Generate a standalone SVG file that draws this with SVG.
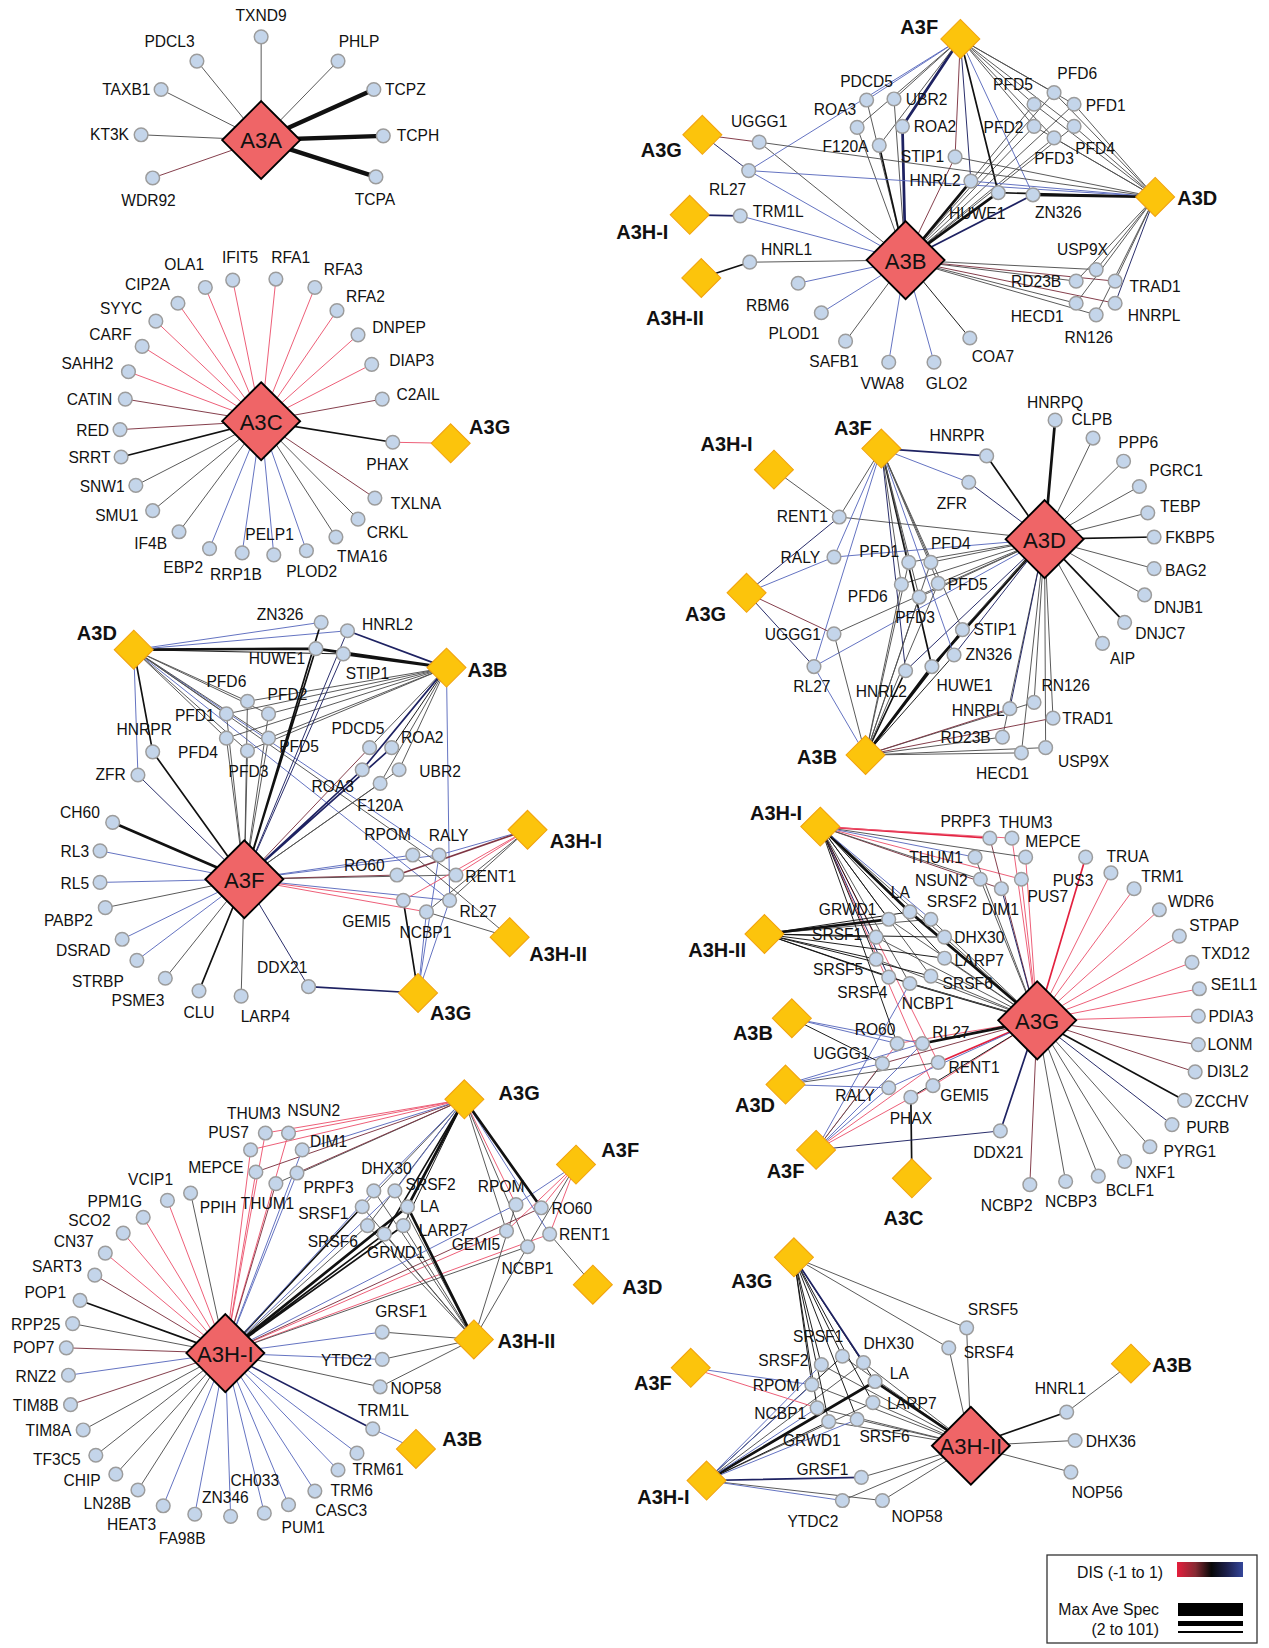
<svg xmlns="http://www.w3.org/2000/svg" width="1269" height="1648" viewBox="0 0 1269 1648">
<defs>
<style>
text{font-family:"Liberation Sans",Arial,sans-serif;fill:#111}
#connectors path{fill:none;stroke-linecap:round}
.r{stroke:#ec5670}.R{stroke:#e3213f}.d{stroke:#7e3442}.k{stroke:#111}.g{stroke:#505050}.n{stroke:#1e2262}.b{stroke:#5b6bbd}
.t1{stroke-width:.9}.t2{stroke-width:1.6}.t3{stroke-width:2.6}.t4{stroke-width:4.2}
.nd circle{fill:#c4d5ea;stroke:#9c9c9c;stroke-width:1.4}
.nd text{font-size:14.8px;text-anchor:middle}
.hub use{fill:#ef6567;stroke:#000;stroke-width:1.8}
.hub text{font-size:21px;text-anchor:middle}
.sat use{fill:#fcc40c;stroke:#f2a30f;stroke-width:1}
.sat text{font-size:19px;font-weight:bold;text-anchor:middle}
.lg{font-size:15.8px;text-anchor:end}
</style>
<polygon id="hd" points="0,-37 37,0 0,37 -37,0"/>
<polygon id="sd" points="0,-18.5 18.5,0 0,18.5 -18.5,0"/>
<linearGradient id="dis" x1="0" x2="1" y1="0" y2="0">
<stop offset="0" stop-color="#e51e3c"/><stop offset=".28" stop-color="#862a33"/><stop offset=".52" stop-color="#080808"/><stop offset=".75" stop-color="#1c1f4a"/><stop offset="1" stop-color="#34469a"/>
</linearGradient>
</defs>
<rect width="1269" height="1648" fill="#fff"/>
<g transform="scale(1.053)">
<g id="connectors">
<path class="g t1" d="M248 133L248 35M248 133L187 58M248 133L153 85M248 133L321 58M248 133L134 128"/>
<path class="d t1" d="M248 133L145 169"/>
<path class="k t4" d="M248 133L355 85M248 133L364 129M248 133L357 168"/>
<path class="r t1" d="M248 400L195 273M248 400L221 266M248 400L262 265M248 400L299 273M248 400L169 288M248 400L320 295M248 400L148 305M248 400L340 318M248 400L135 329M248 400L353 346M248 400L122 353M373 420L428 421"/>
<path class="d t1" d="M248 400L363 379M248 400L119 379M248 400L114 408M248 400L356 473"/>
<path class="k t2" d="M248 400L115 434M248 400L373 420"/>
<path class="g t1" d="M248 400L129 461M248 400L145 485M248 400L170 505M248 400L319 510M248 400L340 493"/>
<path class="b t1" d="M248 400L199 521M248 400L230 525M248 400L260 527M248 400L291 523"/>
<path class="g t1" d="M860 247L712 249M860 247L803 324M860 247L721 135M860 247L823 95M860 247L814 121M860 247L849 94M860 247L982 99M860 247L1001 88M860 247L1020 99M860 247L982 120M860 247L1020 120M860 247L1001 131M860 247L1041 256M860 247L1022 267M860 247L1022 288M860 247L1041 299"/>
<path class="b t1" d="M860 247L758 269M860 247L780 297M860 247L844 344M860 247L887 344M860 247L703 205M860 247L711 162"/>
<path class="k t1" d="M860 247L921 321"/>
<path class="k t2" d="M860 247L835 138"/>
<path class="n t3" d="M860 247L857 120M912 37L857 120"/>
<path class="d t1" d="M860 247L907 149M860 247L1059 267M860 247L1059 288M912 37L907 149M667 128L721 135"/>
<path class="k t3" d="M860 247L922 172M860 247L948 183M1097 187L981 185"/>
<path class="n t2" d="M860 247L981 185M655 204L703 205"/>
<path class="b t1" d="M912 37L823 95M912 37L711 162M912 37L981 185M1097 187L711 162M1097 187L922 172"/>
<path class="g t1" d="M912 37L814 121M912 37L849 94M912 37L835 138M912 37L982 99M912 37L1001 88M912 37L1020 99M912 37L982 120M912 37L1020 120M912 37L1001 131"/>
<path class="n t1" d="M912 37L922 172M1097 187L1059 288M667 128L711 162"/>
<path class="k t2" d="M912 37L948 183M1097 187L948 183M666 264L712 249"/>
<path class="g t1" d="M1097 187L721 135M1097 187L907 149M1097 187L982 99M1097 187L1001 88M1097 187L1020 99M1097 187L982 120M1097 187L1020 120M1097 187L1001 131M1097 187L1041 256M1097 187L1022 267M1097 187L1059 267M1097 187L1022 288M1097 187L1041 299"/>
<path class="k t3" d="M992 512L1002 399M992 512L885 633M822 717L885 633"/>
<path class="g t1" d="M992 512L1038 416M992 512L1067 438M992 512L1082 462M992 512L1090 487M992 512L1096 540M992 512L1087 565M992 512L1047 611M992 512L797 491M992 512L863 534M992 512L884 534M992 512L856 555M992 512L891 554M992 512L873 567M992 512L792 602M992 512L914 598M992 512L982 667M992 512L1000 682M992 512L952 700M992 512L993 710M992 512L970 715"/>
<path class="k t2" d="M992 512L1096 510M992 512L1068 591M992 512L937 433M837 426L885 633M822 717L914 598M822 717L860 637"/>
<path class="n t1" d="M992 512L920 458M992 512L906 622M992 512L860 637M992 512L959 673M837 426L860 637M709 563L797 491M709 563L773 633"/>
<path class="b t1" d="M992 512L792 529M992 512L773 633M837 426L920 458M837 426L792 529M837 426L773 633M837 426L906 622M709 563L792 529M822 717L773 633"/>
<path class="n t2" d="M837 426L937 433"/>
<path class="g t1" d="M837 426L797 491M837 426L863 534M837 426L884 534M837 426L856 555M837 426L891 554M837 426L873 567M837 426L914 598M735 446L797 491M822 717L792 602M822 717L863 534M822 717L884 534M822 717L856 555M822 717L891 554M822 717L873 567M822 717L982 667M822 717L952 700M822 717L993 710M822 717L970 715"/>
<path class="d t1" d="M709 563L792 602M822 717L959 673M822 717L1000 682"/>
<path class="k t1" d="M822 717L906 622"/>
<path class="k t3" d="M232 835L107 781M127 617L300 616M424 634L300 616M424 634L326 621"/>
<path class="b t1" d="M232 835L95 808M232 835L95 838M232 835L116 892M232 835L130 912M232 835L392 812M232 835L417 812M232 835L427 855M127 617L305 591M127 617L330 599M127 617L131 736M127 617L417 812M127 617L427 855M424 634L427 855M501 788L417 812M397 943L405 866M397 943L427 855M397 943L417 812"/>
<path class="g t1" d="M232 835L100 862M232 835L157 929M232 835L229 946M232 835L235 666M232 835L255 678M232 835L215 678M232 835L215 701M232 835L255 701M232 835L235 713M232 835L379 731M232 835L361 744M232 835L433 831M127 617L235 666M127 617L255 678M127 617L215 678M127 617L215 701M127 617L255 701M127 617L235 713M127 617L433 831M424 634L235 666M424 634L255 678M424 634L215 678M424 634L215 701M424 634L255 701M424 634L235 713M424 634L351 710M424 634L379 731M424 634L361 744M501 788L427 855M501 788L405 866M484 890L392 812M484 890L405 866"/>
<path class="k t2" d="M232 835L189 941M232 835L145 714M232 835L300 616M232 835L305 591M127 617L145 714M397 943L383 855"/>
<path class="n t1" d="M232 835L293 937M232 835L131 736M232 835L330 599M232 835L326 621"/>
<path class="d t1" d="M232 835L351 710M232 835L377 831"/>
<path class="n t2" d="M232 835L344 731M232 835L372 710M424 634L330 599M424 634L344 731M397 943L293 937"/>
<path class="r t1" d="M232 835L383 855M232 835L405 866M501 788L433 831M501 788L383 855"/>
<path class="k t1" d="M127 617L326 621M424 634L372 710"/>
<path class="d t2" d="M501 788L377 831"/>
<path class="R t2" d="M985 969L1031 814M985 969L891 1009M779 785L940 796"/>
<path class="r t1" d="M985 969L1055 829M985 969L1077 844M985 969L1101 864M985 969L1120 889M985 969L1132 914M985 969L1139 939M985 969L1138 965M985 969L961 796M985 969L974 814M985 969L970 835M985 969L852 991M985 969L886 1031M779 785L961 796M779 785L970 835M779 785L891 1009M779 785L886 1031M775 1092L852 991M775 1092L891 1009M775 1092L886 1031"/>
<path class="d t1" d="M985 969L1138 992M985 969L1135 1018M985 969L940 796M985 969L838 1010M985 969L978 1125M779 785L951 844"/>
<path class="k t2" d="M985 969L1125 1045M985 969L864 934M866 1119L865 1042"/>
<path class="n t1" d="M985 969L1113 1068M985 969L951 844M779 785L844 928M775 1092L950 1074"/>
<path class="g t1" d="M985 969L1092 1089M985 969L1068 1103M985 969L1043 1117M985 969L1012 1122M985 969L926 814M985 969L931 835M985 969L844 873M985 969L884 873M985 969L832 890M985 969L897 890M985 969L832 911M985 969L897 910M985 969L884 927M985 969L844 928M779 785L974 814M779 785L931 835M779 785L897 890M779 785L884 927M779 785L864 934M726 887L884 873M746 1030L891 1009M775 1092L838 1010"/>
<path class="n t2" d="M985 969L950 1074"/>
<path class="k t3" d="M985 969L864 866M985 969L876 991M779 785L864 866M726 887L844 873"/>
<path class="b t1" d="M985 969L844 1033M779 785L926 814M779 785L884 873M752 967L852 991M752 967L876 991M746 1030L838 1010M746 1030L844 1033M746 1030L876 991M775 1092L844 1033M775 1092L864 934M775 1092L876 991"/>
<path class="k t1" d="M985 969L865 1042M779 785L844 873M779 785L832 890M779 785L832 911M779 785L897 910M779 785L852 991M726 887L864 866M726 887L832 890M726 887L897 890M726 887L897 910M726 887L832 911M726 887L884 927M726 887L844 928M726 887L864 934M752 967L838 1010"/>
<path class="r t1" d="M214 1285L159 1140M214 1285L136 1156M214 1285L117 1171M214 1285L100 1190M214 1285L252 1076M214 1285L274 1076M214 1285L238 1092M214 1285L243 1113M214 1285L481 1169M214 1285L522 1172M441 1044L252 1076M441 1044L274 1076M441 1044L238 1092M441 1044L490 1144M547 1106L481 1169M547 1106L522 1172M547 1106L514 1147"/>
<path class="g t1" d="M214 1285L181 1133M214 1285L69 1257M214 1285L79 1358M214 1285L91 1382M214 1285L131 1415M214 1285L361 1317M214 1285L349 1164M214 1285L501 1184M214 1285L110 1400M441 1044L262 1124M441 1044L344 1146M441 1044L349 1164M441 1044L481 1169M441 1044L501 1184M547 1106L501 1184M563 1220L522 1172M450 1272L383 1164M450 1272L365 1172M450 1272L344 1146M450 1272L375 1131M450 1272L355 1131M450 1272L349 1164M450 1272L490 1144M450 1272L501 1184M450 1272L363 1265M450 1272L363 1291M450 1272L361 1317"/>
<path class="d t1" d="M214 1285L90 1211M214 1285L63 1280M214 1285L67 1334M214 1285L262 1124M214 1285L514 1147M441 1044L243 1113M441 1044L282 1114"/>
<path class="k t2" d="M214 1285L76 1235M214 1285L344 1146M214 1285L383 1164M214 1285L365 1172M441 1044L365 1172"/>
<path class="b t1" d="M214 1285L65 1306M214 1285L155 1430M214 1285L185 1438M214 1285L219 1440M214 1285L251 1437M214 1285L274 1429M214 1285L299 1416M214 1285L321 1396M214 1285L339 1380M214 1285L363 1291M214 1285L363 1265M214 1285L287 1092M214 1285L282 1114M214 1285L355 1131M214 1285L375 1131M214 1285L490 1144M441 1044L287 1092M441 1044L355 1131M441 1044L375 1131M441 1044L522 1172M547 1106L490 1144M395 1376L354 1357"/>
<path class="n t2" d="M214 1285L354 1357"/>
<path class="k t3" d="M214 1285L387 1146M441 1044L387 1146M441 1044L514 1147M450 1272L387 1146"/>
<path class="k t1" d="M441 1044L383 1164"/>
<path class="g t1" d="M922 1373L918 1261M922 1373L901 1280M922 1373L800 1288M922 1373L820 1294M922 1373L780 1296M922 1373L771 1315M922 1373L829 1332M922 1373L776 1337M922 1373L787 1350M922 1373L814 1348M922 1373L1021 1368M922 1373L1017 1398M922 1373L818 1403M922 1373L800 1425M922 1373L838 1425M754 1194L918 1261M754 1194L901 1280M671 1406L820 1294M671 1406L829 1332M671 1406L838 1425M1074 1295L1013 1341"/>
<path class="k t3" d="M922 1373L831 1312M671 1406L831 1312"/>
<path class="k t2" d="M922 1373L1013 1341"/>
<path class="k t1" d="M754 1194L800 1288M754 1194L780 1296M754 1194L831 1312M754 1194L771 1315M754 1194L829 1332M754 1194L776 1337M754 1194L787 1350M754 1194L814 1348M671 1406L787 1350M671 1406L800 1288"/>
<path class="n t2" d="M754 1194L820 1294M671 1406L818 1403"/>
<path class="b t1" d="M656 1299L771 1315M671 1406L771 1315M671 1406L776 1337M671 1406L780 1296M671 1406L814 1348M671 1406L800 1425"/>
<path class="r t1" d="M656 1299L776 1337"/>
</g>

<g id="nodes">
<g id="a-TXND9" class="nd"><circle cx="248" cy="35" r="6.5"/><text x="248" y="20">TXND9</text></g>
<g id="a-PDCL3" class="nd"><circle cx="187" cy="58" r="6.5"/><text x="161" y="45">PDCL3</text></g>
<g id="a-PHLP" class="nd"><circle cx="321" cy="58" r="6.5"/><text x="341" y="45">PHLP</text></g>
<g id="a-TAXB1" class="nd"><circle cx="153" cy="85" r="6.5"/><text x="120" y="90">TAXB1</text></g>
<g id="a-TCPZ" class="nd"><circle cx="355" cy="85" r="6.5"/><text x="385" y="90">TCPZ</text></g>
<g id="a-KT3K" class="nd"><circle cx="134" cy="128" r="6.5"/><text x="104" y="133">KT3K</text></g>
<g id="a-TCPH" class="nd"><circle cx="364" cy="129" r="6.5"/><text x="397" y="134">TCPH</text></g>
<g id="a-WDR92" class="nd"><circle cx="145" cy="169" r="6.5"/><text x="141" y="196">WDR92</text></g>
<g id="a-TCPA" class="nd"><circle cx="357" cy="168" r="6.5"/><text x="356" y="195">TCPA</text></g>
<g id="a-A3A" class="hub"><use href="#hd" x="248" y="133"/><text x="248" y="141">A3A</text></g>

<g id="c-OLA1" class="nd"><circle cx="195" cy="273" r="6.5"/><text x="175" y="256">OLA1</text></g>
<g id="c-IFIT5" class="nd"><circle cx="221" cy="266" r="6.5"/><text x="228" y="250">IFIT5</text></g>
<g id="c-RFA1" class="nd"><circle cx="262" cy="265" r="6.5"/><text x="276" y="250">RFA1</text></g>
<g id="c-RFA3" class="nd"><circle cx="299" cy="273" r="6.5"/><text x="326" y="261">RFA3</text></g>
<g id="c-CIP2A" class="nd"><circle cx="169" cy="288" r="6.5"/><text x="140" y="275">CIP2A</text></g>
<g id="c-RFA2" class="nd"><circle cx="320" cy="295" r="6.5"/><text x="347" y="287">RFA2</text></g>
<g id="c-SYYC" class="nd"><circle cx="148" cy="305" r="6.5"/><text x="115" y="298">SYYC</text></g>
<g id="c-DNPEP" class="nd"><circle cx="340" cy="318" r="6.5"/><text x="379" y="316">DNPEP</text></g>
<g id="c-CARF" class="nd"><circle cx="135" cy="329" r="6.5"/><text x="105" y="323">CARF</text></g>
<g id="c-DIAP3" class="nd"><circle cx="353" cy="346" r="6.5"/><text x="391" y="348">DIAP3</text></g>
<g id="c-SAHH2" class="nd"><circle cx="122" cy="353" r="6.5"/><text x="83" y="350">SAHH2</text></g>
<g id="c-C2AIL" class="nd"><circle cx="363" cy="379" r="6.5"/><text x="397" y="380">C2AIL</text></g>
<g id="c-CATIN" class="nd"><circle cx="119" cy="379" r="6.5"/><text x="85" y="385">CATIN</text></g>
<g id="c-RED" class="nd"><circle cx="114" cy="408" r="6.5"/><text x="88" y="414">RED</text></g>
<g id="c-SRRT" class="nd"><circle cx="115" cy="434" r="6.5"/><text x="85" y="440">SRRT</text></g>
<g id="c-PHAX" class="nd"><circle cx="373" cy="420" r="6.5"/><text x="368" y="446">PHAX</text></g>
<g id="c-SNW1" class="nd"><circle cx="129" cy="461" r="6.5"/><text x="97" y="467">SNW1</text></g>
<g id="c-TXLNA" class="nd"><circle cx="356" cy="473" r="6.5"/><text x="395" y="483">TXLNA</text></g>
<g id="c-SMU1" class="nd"><circle cx="145" cy="485" r="6.5"/><text x="111" y="495">SMU1</text></g>
<g id="c-CRKL" class="nd"><circle cx="340" cy="493" r="6.5"/><text x="368" y="511">CRKL</text></g>
<g id="c-IF4B" class="nd"><circle cx="170" cy="505" r="6.5"/><text x="143" y="521">IF4B</text></g>
<g id="c-EBP2" class="nd"><circle cx="199" cy="521" r="6.5"/><text x="174" y="544">EBP2</text></g>
<g id="c-RRP1B" class="nd"><circle cx="230" cy="525" r="6.5"/><text x="224" y="551">RRP1B</text></g>
<g id="c-PELP1" class="nd"><circle cx="260" cy="527" r="6.5"/><text x="256" y="513">PELP1</text></g>
<g id="c-PLOD2" class="nd"><circle cx="291" cy="523" r="6.5"/><text x="296" y="548">PLOD2</text></g>
<g id="c-TMA16" class="nd"><circle cx="319" cy="510" r="6.5"/><text x="344" y="534">TMA16</text></g>
<g id="c-A3C" class="hub"><use href="#hd" x="248" y="400"/><text x="248" y="408">A3C</text></g>
<g id="c-A3G" class="sat"><use href="#sd" x="428" y="421"/><text x="465" y="412">A3G</text></g>

<g id="b-PDCD5" class="nd"><circle cx="823" cy="95" r="6.5"/><text x="823" y="83">PDCD5</text></g>
<g id="b-UBR2" class="nd"><circle cx="849" cy="94" r="6.5"/><text x="880" y="100">UBR2</text></g>
<g id="b-ROA3" class="nd"><circle cx="814" cy="121" r="6.5"/><text x="793" y="109">ROA3</text></g>
<g id="b-ROA2" class="nd"><circle cx="857" cy="120" r="6.5"/><text x="888" y="125">ROA2</text></g>
<g id="b-F120A" class="nd"><circle cx="835" cy="138" r="6.5"/><text x="803" y="144">F120A</text></g>
<g id="b-UGGG1" class="nd"><circle cx="721" cy="135" r="6.5"/><text x="721" y="121">UGGG1</text></g>
<g id="b-RL27" class="nd"><circle cx="711" cy="162" r="6.5"/><text x="691" y="185">RL27</text></g>
<g id="b-STIP1" class="nd"><circle cx="907" cy="149" r="6.5"/><text x="876" y="154">STIP1</text></g>
<g id="b-HNRL2" class="nd"><circle cx="922" cy="172" r="6.5"/><text x="888" y="177">HNRL2</text></g>
<g id="b-HUWE1" class="nd"><circle cx="948" cy="183" r="6.5"/><text x="928" y="208">HUWE1</text></g>
<g id="b-ZN326" class="nd"><circle cx="981" cy="185" r="6.5"/><text x="1005" y="207">ZN326</text></g>
<g id="b-TRM1L" class="nd"><circle cx="703" cy="205" r="6.5"/><text x="739" y="206">TRM1L</text></g>
<g id="b-HNRL1" class="nd"><circle cx="712" cy="249" r="6.5"/><text x="747" y="242">HNRL1</text></g>
<g id="b-RBM6" class="nd"><circle cx="758" cy="269" r="6.5"/><text x="729" y="295">RBM6</text></g>
<g id="b-PLOD1" class="nd"><circle cx="780" cy="297" r="6.5"/><text x="754" y="322">PLOD1</text></g>
<g id="b-SAFB1" class="nd"><circle cx="803" cy="324" r="6.5"/><text x="792" y="349">SAFB1</text></g>
<g id="b-VWA8" class="nd"><circle cx="844" cy="344" r="6.5"/><text x="838" y="369">VWA8</text></g>
<g id="b-GLO2" class="nd"><circle cx="887" cy="344" r="6.5"/><text x="899" y="369">GLO2</text></g>
<g id="b-COA7" class="nd"><circle cx="921" cy="321" r="6.5"/><text x="943" y="344">COA7</text></g>
<g id="b-PFD5" class="nd"><circle cx="982" cy="99" r="6.5"/><text x="962" y="85">PFD5</text></g>
<g id="b-PFD6" class="nd"><circle cx="1001" cy="88" r="6.5"/><text x="1023" y="75">PFD6</text></g>
<g id="b-PFD1" class="nd"><circle cx="1020" cy="99" r="6.5"/><text x="1050" y="105">PFD1</text></g>
<g id="b-PFD2" class="nd"><circle cx="982" cy="120" r="6.5"/><text x="953" y="126">PFD2</text></g>
<g id="b-PFD4" class="nd"><circle cx="1020" cy="120" r="6.5"/><text x="1040" y="146">PFD4</text></g>
<g id="b-PFD3" class="nd"><circle cx="1001" cy="131" r="6.5"/><text x="1001" y="156">PFD3</text></g>
<g id="b-USP9X" class="nd"><circle cx="1041" cy="256" r="6.5"/><text x="1028" y="242">USP9X</text></g>
<g id="b-RD23B" class="nd"><circle cx="1022" cy="267" r="6.5"/><text x="984" y="273">RD23B</text></g>
<g id="b-TRAD1" class="nd"><circle cx="1059" cy="267" r="6.5"/><text x="1097" y="277">TRAD1</text></g>
<g id="b-HECD1" class="nd"><circle cx="1022" cy="288" r="6.5"/><text x="985" y="306">HECD1</text></g>
<g id="b-HNRPL" class="nd"><circle cx="1059" cy="288" r="6.5"/><text x="1096" y="305">HNRPL</text></g>
<g id="b-RN126" class="nd"><circle cx="1041" cy="299" r="6.5"/><text x="1034" y="326">RN126</text></g>
<g id="b-A3B" class="hub"><use href="#hd" x="860" y="247"/><text x="860" y="255">A3B</text></g>
<g id="b-A3F" class="sat"><use href="#sd" x="912" y="37"/><text x="873" y="32">A3F</text></g>
<g id="b-A3G" class="sat"><use href="#sd" x="667" y="128"/><text x="628" y="149">A3G</text></g>
<g id="b-A3H-I" class="sat"><use href="#sd" x="655" y="204"/><text x="610" y="227">A3H-I</text></g>
<g id="b-A3H-II" class="sat"><use href="#sd" x="666" y="264"/><text x="641" y="309">A3H-II</text></g>
<g id="b-A3D" class="sat"><use href="#sd" x="1097" y="187"/><text x="1137" y="195">A3D</text></g>

<g id="d-HNRPQ" class="nd"><circle cx="1002" cy="399" r="6.5"/><text x="1002" y="387">HNRPQ</text></g>
<g id="d-CLPB" class="nd"><circle cx="1038" cy="416" r="6.5"/><text x="1037" y="404">CLPB</text></g>
<g id="d-HNRPR" class="nd"><circle cx="937" cy="433" r="6.5"/><text x="909" y="419">HNRPR</text></g>
<g id="d-PPP6" class="nd"><circle cx="1067" cy="438" r="6.5"/><text x="1081" y="425">PPP6</text></g>
<g id="d-ZFR" class="nd"><circle cx="920" cy="458" r="6.5"/><text x="904" y="483">ZFR</text></g>
<g id="d-PGRC1" class="nd"><circle cx="1082" cy="462" r="6.5"/><text x="1117" y="452">PGRC1</text></g>
<g id="d-RENT1" class="nd"><circle cx="797" cy="491" r="6.5"/><text x="762" y="496">RENT1</text></g>
<g id="d-TEBP" class="nd"><circle cx="1090" cy="487" r="6.5"/><text x="1121" y="486">TEBP</text></g>
<g id="d-FKBP5" class="nd"><circle cx="1096" cy="510" r="6.5"/><text x="1130" y="516">FKBP5</text></g>
<g id="d-RALY" class="nd"><circle cx="792" cy="529" r="6.5"/><text x="760" y="535">RALY</text></g>
<g id="d-PFD1" class="nd"><circle cx="863" cy="534" r="6.5"/><text x="835" y="529">PFD1</text></g>
<g id="d-PFD4" class="nd"><circle cx="884" cy="534" r="6.5"/><text x="903" y="521">PFD4</text></g>
<g id="d-BAG2" class="nd"><circle cx="1096" cy="540" r="6.5"/><text x="1126" y="547">BAG2</text></g>
<g id="d-PFD6" class="nd"><circle cx="856" cy="555" r="6.5"/><text x="824" y="572">PFD6</text></g>
<g id="d-PFD5" class="nd"><circle cx="891" cy="554" r="6.5"/><text x="919" y="560">PFD5</text></g>
<g id="d-PFD3" class="nd"><circle cx="873" cy="567" r="6.5"/><text x="869" y="592">PFD3</text></g>
<g id="d-DNJB1" class="nd"><circle cx="1087" cy="565" r="6.5"/><text x="1119" y="582">DNJB1</text></g>
<g id="d-UGGG1" class="nd"><circle cx="792" cy="602" r="6.5"/><text x="753" y="608">UGGG1</text></g>
<g id="d-STIP1" class="nd"><circle cx="914" cy="598" r="6.5"/><text x="945" y="603">STIP1</text></g>
<g id="d-DNJC7" class="nd"><circle cx="1068" cy="591" r="6.5"/><text x="1102" y="607">DNJC7</text></g>
<g id="d-AIP" class="nd"><circle cx="1047" cy="611" r="6.5"/><text x="1066" y="631">AIP</text></g>
<g id="d-ZN326" class="nd"><circle cx="906" cy="622" r="6.5"/><text x="939" y="627">ZN326</text></g>
<g id="d-RL27" class="nd"><circle cx="773" cy="633" r="6.5"/><text x="771" y="657">RL27</text></g>
<g id="d-HNRL2" class="nd"><circle cx="860" cy="637" r="6.5"/><text x="837" y="662">HNRL2</text></g>
<g id="d-HUWE1" class="nd"><circle cx="885" cy="633" r="6.5"/><text x="916" y="656">HUWE1</text></g>
<g id="d-RN126" class="nd"><circle cx="982" cy="667" r="6.5"/><text x="1012" y="656">RN126</text></g>
<g id="d-HNRPL" class="nd"><circle cx="959" cy="673" r="6.5"/><text x="929" y="680">HNRPL</text></g>
<g id="d-TRAD1" class="nd"><circle cx="1000" cy="682" r="6.5"/><text x="1033" y="688">TRAD1</text></g>
<g id="d-RD23B" class="nd"><circle cx="952" cy="700" r="6.5"/><text x="917" y="706">RD23B</text></g>
<g id="d-USP9X" class="nd"><circle cx="993" cy="710" r="6.5"/><text x="1029" y="728">USP9X</text></g>
<g id="d-HECD1" class="nd"><circle cx="970" cy="715" r="6.5"/><text x="952" y="740">HECD1</text></g>
<g id="d-A3D" class="hub"><use href="#hd" x="992" y="512"/><text x="992" y="520">A3D</text></g>
<g id="d-A3H-I" class="sat"><use href="#sd" x="735" y="446"/><text x="690" y="428">A3H-I</text></g>
<g id="d-A3F" class="sat"><use href="#sd" x="837" y="426"/><text x="810" y="413">A3F</text></g>
<g id="d-A3G" class="sat"><use href="#sd" x="709" y="563"/><text x="670" y="590">A3G</text></g>
<g id="d-A3B" class="sat"><use href="#sd" x="822" y="717"/><text x="776" y="726">A3B</text></g>

<g id="f-ZN326" class="nd"><circle cx="305" cy="591" r="6.5"/><text x="266" y="589">ZN326</text></g>
<g id="f-HNRL2" class="nd"><circle cx="330" cy="599" r="6.5"/><text x="368" y="598">HNRL2</text></g>
<g id="f-HUWE1" class="nd"><circle cx="300" cy="616" r="6.5"/><text x="263" y="631">HUWE1</text></g>
<g id="f-STIP1" class="nd"><circle cx="326" cy="621" r="6.5"/><text x="349" y="645">STIP1</text></g>
<g id="f-PFD6" class="nd"><circle cx="235" cy="666" r="6.5"/><text x="215" y="652">PFD6</text></g>
<g id="f-PFD2" class="nd"><circle cx="255" cy="678" r="6.5"/><text x="273" y="665">PFD2</text></g>
<g id="f-PFD1" class="nd"><circle cx="215" cy="678" r="6.5"/><text x="185" y="685">PFD1</text></g>
<g id="f-HNRPR" class="nd"><circle cx="145" cy="714" r="6.5"/><text x="137" y="698">HNRPR</text></g>
<g id="f-PFD4" class="nd"><circle cx="215" cy="701" r="6.5"/><text x="188" y="720">PFD4</text></g>
<g id="f-PFD5" class="nd"><circle cx="255" cy="701" r="6.5"/><text x="284" y="714">PFD5</text></g>
<g id="f-PFD3" class="nd"><circle cx="235" cy="713" r="6.5"/><text x="236" y="738">PFD3</text></g>
<g id="f-PDCD5" class="nd"><circle cx="351" cy="710" r="6.5"/><text x="340" y="697">PDCD5</text></g>
<g id="f-ROA2" class="nd"><circle cx="372" cy="710" r="6.5"/><text x="401" y="706">ROA2</text></g>
<g id="f-ZFR" class="nd"><circle cx="131" cy="736" r="6.5"/><text x="105" y="741">ZFR</text></g>
<g id="f-ROA3" class="nd"><circle cx="344" cy="731" r="6.5"/><text x="316" y="752">ROA3</text></g>
<g id="f-UBR2" class="nd"><circle cx="379" cy="731" r="6.5"/><text x="418" y="738">UBR2</text></g>
<g id="f-F120A" class="nd"><circle cx="361" cy="744" r="6.5"/><text x="361" y="770">F120A</text></g>
<g id="f-CH60" class="nd"><circle cx="107" cy="781" r="6.5"/><text x="76" y="777">CH60</text></g>
<g id="f-RPOM" class="nd"><circle cx="392" cy="812" r="6.5"/><text x="368" y="798">RPOM</text></g>
<g id="f-RALY" class="nd"><circle cx="417" cy="812" r="6.5"/><text x="426" y="799">RALY</text></g>
<g id="f-RL3" class="nd"><circle cx="95" cy="808" r="6.5"/><text x="71" y="814">RL3</text></g>
<g id="f-RO60" class="nd"><circle cx="377" cy="831" r="6.5"/><text x="346" y="827">RO60</text></g>
<g id="f-RENT1" class="nd"><circle cx="433" cy="831" r="6.5"/><text x="466" y="838">RENT1</text></g>
<g id="f-RL5" class="nd"><circle cx="95" cy="838" r="6.5"/><text x="71" y="844">RL5</text></g>
<g id="f-GEMI5" class="nd"><circle cx="383" cy="855" r="6.5"/><text x="348" y="880">GEMI5</text></g>
<g id="f-RL27" class="nd"><circle cx="427" cy="855" r="6.5"/><text x="454" y="871">RL27</text></g>
<g id="f-NCBP1" class="nd"><circle cx="405" cy="866" r="6.5"/><text x="404" y="891">NCBP1</text></g>
<g id="f-PABP2" class="nd"><circle cx="100" cy="862" r="6.5"/><text x="65" y="879">PABP2</text></g>
<g id="f-DSRAD" class="nd"><circle cx="116" cy="892" r="6.5"/><text x="79" y="908">DSRAD</text></g>
<g id="f-STRBP" class="nd"><circle cx="130" cy="912" r="6.5"/><text x="93" y="937">STRBP</text></g>
<g id="f-PSME3" class="nd"><circle cx="157" cy="929" r="6.5"/><text x="131" y="955">PSME3</text></g>
<g id="f-CLU" class="nd"><circle cx="189" cy="941" r="6.5"/><text x="189" y="967">CLU</text></g>
<g id="f-LARP4" class="nd"><circle cx="229" cy="946" r="6.5"/><text x="252" y="971">LARP4</text></g>
<g id="f-DDX21" class="nd"><circle cx="293" cy="937" r="6.5"/><text x="268" y="924">DDX21</text></g>
<g id="f-A3F" class="hub"><use href="#hd" x="232" y="835"/><text x="232" y="843">A3F</text></g>
<g id="f-A3D" class="sat"><use href="#sd" x="127" y="617"/><text x="92" y="608">A3D</text></g>
<g id="f-A3B" class="sat"><use href="#sd" x="424" y="634"/><text x="463" y="643">A3B</text></g>
<g id="f-A3H-I" class="sat"><use href="#sd" x="501" y="788"/><text x="547" y="805">A3H-I</text></g>
<g id="f-A3H-II" class="sat"><use href="#sd" x="484" y="890"/><text x="530" y="913">A3H-II</text></g>
<g id="f-A3G" class="sat"><use href="#sd" x="397" y="943"/><text x="428" y="969">A3G</text></g>

<g id="g-PRPF3" class="nd"><circle cx="940" cy="796" r="6.5"/><text x="917" y="785">PRPF3</text></g>
<g id="g-THUM3" class="nd"><circle cx="961" cy="796" r="6.5"/><text x="974" y="786">THUM3</text></g>
<g id="g-MEPCE" class="nd"><circle cx="974" cy="814" r="6.5"/><text x="1000" y="804">MEPCE</text></g>
<g id="g-THUM1" class="nd"><circle cx="926" cy="814" r="6.5"/><text x="889" y="820">THUM1</text></g>
<g id="g-PUS3" class="nd"><circle cx="1031" cy="814" r="6.5"/><text x="1019" y="841">PUS3</text></g>
<g id="g-TRUA" class="nd"><circle cx="1055" cy="829" r="6.5"/><text x="1071" y="819">TRUA</text></g>
<g id="g-NSUN2" class="nd"><circle cx="931" cy="835" r="6.5"/><text x="894" y="841">NSUN2</text></g>
<g id="g-DIM1" class="nd"><circle cx="951" cy="844" r="6.5"/><text x="950" y="869">DIM1</text></g>
<g id="g-PUS7" class="nd"><circle cx="970" cy="835" r="6.5"/><text x="995" y="857">PUS7</text></g>
<g id="g-TRM1" class="nd"><circle cx="1077" cy="844" r="6.5"/><text x="1104" y="838">TRM1</text></g>
<g id="g-WDR6" class="nd"><circle cx="1101" cy="864" r="6.5"/><text x="1131" y="861">WDR6</text></g>
<g id="g-LA" class="nd"><circle cx="864" cy="866" r="6.5"/><text x="855" y="853">LA</text></g>
<g id="g-GRWD1" class="nd"><circle cx="844" cy="873" r="6.5"/><text x="805" y="869">GRWD1</text></g>
<g id="g-SRSF2" class="nd"><circle cx="884" cy="873" r="6.5"/><text x="904" y="861">SRSF2</text></g>
<g id="g-STPAP" class="nd"><circle cx="1120" cy="889" r="6.5"/><text x="1153" y="884">STPAP</text></g>
<g id="g-SRSF1" class="nd"><circle cx="832" cy="890" r="6.5"/><text x="795" y="893">SRSF1</text></g>
<g id="g-DHX30" class="nd"><circle cx="897" cy="890" r="6.5"/><text x="930" y="896">DHX30</text></g>
<g id="g-TXD12" class="nd"><circle cx="1132" cy="914" r="6.5"/><text x="1164" y="911">TXD12</text></g>
<g id="g-SRSF5" class="nd"><circle cx="832" cy="911" r="6.5"/><text x="796" y="926">SRSF5</text></g>
<g id="g-LARP7" class="nd"><circle cx="897" cy="910" r="6.5"/><text x="930" y="917">LARP7</text></g>
<g id="g-SRSF6" class="nd"><circle cx="884" cy="927" r="6.5"/><text x="919" y="939">SRSF6</text></g>
<g id="g-SRSF4" class="nd"><circle cx="844" cy="928" r="6.5"/><text x="819" y="948">SRSF4</text></g>
<g id="g-NCBP1" class="nd"><circle cx="864" cy="934" r="6.5"/><text x="881" y="958">NCBP1</text></g>
<g id="g-SE1L1" class="nd"><circle cx="1139" cy="939" r="6.5"/><text x="1172" y="940">SE1L1</text></g>
<g id="g-PDIA3" class="nd"><circle cx="1138" cy="965" r="6.5"/><text x="1169" y="971">PDIA3</text></g>
<g id="g-RO60" class="nd"><circle cx="852" cy="991" r="6.5"/><text x="831" y="983">RO60</text></g>
<g id="g-RL27" class="nd"><circle cx="876" cy="991" r="6.5"/><text x="903" y="986">RL27</text></g>
<g id="g-LONM" class="nd"><circle cx="1138" cy="992" r="6.5"/><text x="1168" y="997">LONM</text></g>
<g id="g-UGGG1" class="nd"><circle cx="838" cy="1010" r="6.5"/><text x="799" y="1006">UGGG1</text></g>
<g id="g-RENT1" class="nd"><circle cx="891" cy="1009" r="6.5"/><text x="925" y="1019">RENT1</text></g>
<g id="g-DI3L2" class="nd"><circle cx="1135" cy="1018" r="6.5"/><text x="1166" y="1023">DI3L2</text></g>
<g id="g-RALY" class="nd"><circle cx="844" cy="1033" r="6.5"/><text x="812" y="1046">RALY</text></g>
<g id="g-GEMI5" class="nd"><circle cx="886" cy="1031" r="6.5"/><text x="916" y="1046">GEMI5</text></g>
<g id="g-PHAX" class="nd"><circle cx="865" cy="1042" r="6.5"/><text x="865" y="1067">PHAX</text></g>
<g id="g-ZCCHV" class="nd"><circle cx="1125" cy="1045" r="6.5"/><text x="1160" y="1051">ZCCHV</text></g>
<g id="g-DDX21" class="nd"><circle cx="950" cy="1074" r="6.5"/><text x="948" y="1100">DDX21</text></g>
<g id="g-PURB" class="nd"><circle cx="1113" cy="1068" r="6.5"/><text x="1147" y="1076">PURB</text></g>
<g id="g-PYRG1" class="nd"><circle cx="1092" cy="1089" r="6.5"/><text x="1130" y="1099">PYRG1</text></g>
<g id="g-NXF1" class="nd"><circle cx="1068" cy="1103" r="6.5"/><text x="1097" y="1119">NXF1</text></g>
<g id="g-BCLF1" class="nd"><circle cx="1043" cy="1117" r="6.5"/><text x="1073" y="1136">BCLF1</text></g>
<g id="g-NCBP3" class="nd"><circle cx="1012" cy="1122" r="6.5"/><text x="1017" y="1146">NCBP3</text></g>
<g id="g-NCBP2" class="nd"><circle cx="978" cy="1125" r="6.5"/><text x="956" y="1150">NCBP2</text></g>
<g id="g-A3G" class="hub"><use href="#hd" x="985" y="969"/><text x="985" y="977">A3G</text></g>
<g id="g-A3H-I" class="sat"><use href="#sd" x="779" y="785"/><text x="737" y="779">A3H-I</text></g>
<g id="g-A3H-II" class="sat"><use href="#sd" x="726" y="887"/><text x="681" y="909">A3H-II</text></g>
<g id="g-A3B" class="sat"><use href="#sd" x="752" y="967"/><text x="715" y="988">A3B</text></g>
<g id="g-A3D" class="sat"><use href="#sd" x="746" y="1030"/><text x="717" y="1056">A3D</text></g>
<g id="g-A3F" class="sat"><use href="#sd" x="775" y="1092"/><text x="746" y="1119">A3F</text></g>
<g id="g-A3C" class="sat"><use href="#sd" x="866" y="1119"/><text x="858" y="1163">A3C</text></g>

<g id="i-THUM3" class="nd"><circle cx="252" cy="1076" r="6.5"/><text x="241" y="1063">THUM3</text></g>
<g id="i-NSUN2" class="nd"><circle cx="274" cy="1076" r="6.5"/><text x="298" y="1060">NSUN2</text></g>
<g id="i-PUS7" class="nd"><circle cx="238" cy="1092" r="6.5"/><text x="217" y="1081">PUS7</text></g>
<g id="i-DIM1" class="nd"><circle cx="287" cy="1092" r="6.5"/><text x="312" y="1089">DIM1</text></g>
<g id="i-MEPCE" class="nd"><circle cx="243" cy="1113" r="6.5"/><text x="205" y="1114">MEPCE</text></g>
<g id="i-PRPF3" class="nd"><circle cx="282" cy="1114" r="6.5"/><text x="312" y="1133">PRPF3</text></g>
<g id="i-THUM1" class="nd"><circle cx="262" cy="1124" r="6.5"/><text x="254" y="1148">THUM1</text></g>
<g id="i-VCIP1" class="nd"><circle cx="159" cy="1140" r="6.5"/><text x="143" y="1125">VCIP1</text></g>
<g id="i-PPIH" class="nd"><circle cx="181" cy="1133" r="6.5"/><text x="207" y="1152">PPIH</text></g>
<g id="i-PPM1G" class="nd"><circle cx="136" cy="1156" r="6.5"/><text x="109" y="1146">PPM1G</text></g>
<g id="i-SCO2" class="nd"><circle cx="117" cy="1171" r="6.5"/><text x="85" y="1164">SCO2</text></g>
<g id="i-CN37" class="nd"><circle cx="100" cy="1190" r="6.5"/><text x="70" y="1184">CN37</text></g>
<g id="i-SART3" class="nd"><circle cx="90" cy="1211" r="6.5"/><text x="54" y="1208">SART3</text></g>
<g id="i-POP1" class="nd"><circle cx="76" cy="1235" r="6.5"/><text x="43" y="1233">POP1</text></g>
<g id="i-RPP25" class="nd"><circle cx="69" cy="1257" r="6.5"/><text x="34" y="1263">RPP25</text></g>
<g id="i-POP7" class="nd"><circle cx="63" cy="1280" r="6.5"/><text x="32" y="1285">POP7</text></g>
<g id="i-RNZ2" class="nd"><circle cx="65" cy="1306" r="6.5"/><text x="34" y="1312">RNZ2</text></g>
<g id="i-TIM8B" class="nd"><circle cx="67" cy="1334" r="6.5"/><text x="34" y="1340">TIM8B</text></g>
<g id="i-TIM8A" class="nd"><circle cx="79" cy="1358" r="6.5"/><text x="46" y="1364">TIM8A</text></g>
<g id="i-TF3C5" class="nd"><circle cx="91" cy="1382" r="6.5"/><text x="54" y="1391">TF3C5</text></g>
<g id="i-CHIP" class="nd"><circle cx="110" cy="1400" r="6.5"/><text x="78" y="1411">CHIP</text></g>
<g id="i-LN28B" class="nd"><circle cx="131" cy="1415" r="6.5"/><text x="102" y="1433">LN28B</text></g>
<g id="i-HEAT3" class="nd"><circle cx="155" cy="1430" r="6.5"/><text x="125" y="1453">HEAT3</text></g>
<g id="i-FA98B" class="nd"><circle cx="185" cy="1438" r="6.5"/><text x="173" y="1466">FA98B</text></g>
<g id="i-ZN346" class="nd"><circle cx="219" cy="1440" r="6.5"/><text x="214" y="1427">ZN346</text></g>
<g id="i-CH033" class="nd"><circle cx="251" cy="1437" r="6.5"/><text x="242" y="1411">CH033</text></g>
<g id="i-PUM1" class="nd"><circle cx="274" cy="1429" r="6.5"/><text x="288" y="1456">PUM1</text></g>
<g id="i-CASC3" class="nd"><circle cx="299" cy="1416" r="6.5"/><text x="324" y="1440">CASC3</text></g>
<g id="i-TRM6" class="nd"><circle cx="321" cy="1396" r="6.5"/><text x="334" y="1421">TRM6</text></g>
<g id="i-TRM61" class="nd"><circle cx="339" cy="1380" r="6.5"/><text x="359" y="1401">TRM61</text></g>
<g id="i-TRM1L" class="nd"><circle cx="354" cy="1357" r="6.5"/><text x="364" y="1345">TRM1L</text></g>
<g id="i-NOP58" class="nd"><circle cx="361" cy="1317" r="6.5"/><text x="395" y="1324">NOP58</text></g>
<g id="i-YTDC2" class="nd"><circle cx="363" cy="1291" r="6.5"/><text x="329" y="1297">YTDC2</text></g>
<g id="i-GRSF1" class="nd"><circle cx="363" cy="1265" r="6.5"/><text x="381" y="1251">GRSF1</text></g>
<g id="i-DHX30" class="nd"><circle cx="355" cy="1131" r="6.5"/><text x="367" y="1115">DHX30</text></g>
<g id="i-SRSF2" class="nd"><circle cx="375" cy="1131" r="6.5"/><text x="409" y="1130">SRSF2</text></g>
<g id="i-SRSF1" class="nd"><circle cx="344" cy="1146" r="6.5"/><text x="307" y="1158">SRSF1</text></g>
<g id="i-LA" class="nd"><circle cx="387" cy="1146" r="6.5"/><text x="408" y="1151">LA</text></g>
<g id="i-SRSF6" class="nd"><circle cx="349" cy="1164" r="6.5"/><text x="316" y="1184">SRSF6</text></g>
<g id="i-GRWD1" class="nd"><circle cx="365" cy="1172" r="6.5"/><text x="376" y="1195">GRWD1</text></g>
<g id="i-LARP7" class="nd"><circle cx="383" cy="1164" r="6.5"/><text x="421" y="1174">LARP7</text></g>
<g id="i-RPOM" class="nd"><circle cx="490" cy="1144" r="6.5"/><text x="476" y="1132">RPOM</text></g>
<g id="i-RO60" class="nd"><circle cx="514" cy="1147" r="6.5"/><text x="543" y="1153">RO60</text></g>
<g id="i-GEMI5" class="nd"><circle cx="481" cy="1169" r="6.5"/><text x="452" y="1187">GEMI5</text></g>
<g id="i-RENT1" class="nd"><circle cx="522" cy="1172" r="6.5"/><text x="555" y="1178">RENT1</text></g>
<g id="i-NCBP1" class="nd"><circle cx="501" cy="1184" r="6.5"/><text x="501" y="1210">NCBP1</text></g>
<g id="i-A3H-I" class="hub"><use href="#hd" x="214" y="1285"/><text x="214" y="1293">A3H-I</text></g>
<g id="i-A3G" class="sat"><use href="#sd" x="441" y="1044"/><text x="493" y="1045">A3G</text></g>
<g id="i-A3F" class="sat"><use href="#sd" x="547" y="1106"/><text x="589" y="1099">A3F</text></g>
<g id="i-A3D" class="sat"><use href="#sd" x="563" y="1220"/><text x="610" y="1229">A3D</text></g>
<g id="i-A3H-II" class="sat"><use href="#sd" x="450" y="1272"/><text x="500" y="1280">A3H-II</text></g>
<g id="i-A3B" class="sat"><use href="#sd" x="395" y="1376"/><text x="439" y="1373">A3B</text></g>

<g id="j-SRSF5" class="nd"><circle cx="918" cy="1261" r="6.5"/><text x="943" y="1249">SRSF5</text></g>
<g id="j-SRSF4" class="nd"><circle cx="901" cy="1280" r="6.5"/><text x="939" y="1290">SRSF4</text></g>
<g id="j-SRSF1" class="nd"><circle cx="800" cy="1288" r="6.5"/><text x="777" y="1274">SRSF1</text></g>
<g id="j-DHX30" class="nd"><circle cx="820" cy="1294" r="6.5"/><text x="844" y="1281">DHX30</text></g>
<g id="j-SRSF2" class="nd"><circle cx="780" cy="1296" r="6.5"/><text x="744" y="1297">SRSF2</text></g>
<g id="j-LA" class="nd"><circle cx="831" cy="1312" r="6.5"/><text x="854" y="1310">LA</text></g>
<g id="j-RPOM" class="nd"><circle cx="771" cy="1315" r="6.5"/><text x="737" y="1321">RPOM</text></g>
<g id="j-LARP7" class="nd"><circle cx="829" cy="1332" r="6.5"/><text x="866" y="1338">LARP7</text></g>
<g id="j-NCBP1" class="nd"><circle cx="776" cy="1337" r="6.5"/><text x="741" y="1348">NCBP1</text></g>
<g id="j-GRWD1" class="nd"><circle cx="787" cy="1350" r="6.5"/><text x="771" y="1373">GRWD1</text></g>
<g id="j-SRSF6" class="nd"><circle cx="814" cy="1348" r="6.5"/><text x="840" y="1369">SRSF6</text></g>
<g id="j-HNRL1" class="nd"><circle cx="1013" cy="1341" r="6.5"/><text x="1007" y="1324">HNRL1</text></g>
<g id="j-DHX36" class="nd"><circle cx="1021" cy="1368" r="6.5"/><text x="1055" y="1374">DHX36</text></g>
<g id="j-NOP56" class="nd"><circle cx="1017" cy="1398" r="6.5"/><text x="1042" y="1423">NOP56</text></g>
<g id="j-GRSF1" class="nd"><circle cx="818" cy="1403" r="6.5"/><text x="781" y="1401">GRSF1</text></g>
<g id="j-YTDC2" class="nd"><circle cx="800" cy="1425" r="6.5"/><text x="772" y="1450">YTDC2</text></g>
<g id="j-NOP58" class="nd"><circle cx="838" cy="1425" r="6.5"/><text x="871" y="1445">NOP58</text></g>
<g id="j-A3H-II" class="hub"><use href="#hd" x="922" y="1373"/><text x="922" y="1381">A3H-II</text></g>
<g id="j-A3G" class="sat"><use href="#sd" x="754" y="1194"/><text x="714" y="1223">A3G</text></g>
<g id="j-A3F" class="sat"><use href="#sd" x="656" y="1299"/><text x="620" y="1320">A3F</text></g>
<g id="j-A3B" class="sat"><use href="#sd" x="1074" y="1295"/><text x="1113" y="1303">A3B</text></g>
<g id="j-A3H-I" class="sat"><use href="#sd" x="671" y="1406"/><text x="630" y="1428">A3H-I</text></g>
</g>
</g>

<g id="legend">
<rect x="1047" y="1555" width="210" height="88" fill="#fff" stroke="#333" stroke-width="1.3"/>
<text class="lg" x="1163" y="1578">DIS (-1 to 1)</text>
<rect x="1177" y="1562" width="66" height="15" fill="url(#dis)"/>
<text class="lg" x="1159" y="1615">Max Ave Spec</text>
<text class="lg" x="1159" y="1635">(2 to 101)</text>
<rect x="1178" y="1603" width="65" height="13" fill="#000"/>
<rect x="1178" y="1621" width="65" height="5" fill="#000"/>
<rect x="1178" y="1631" width="65" height="2" fill="#000"/>
</g>
</svg>
